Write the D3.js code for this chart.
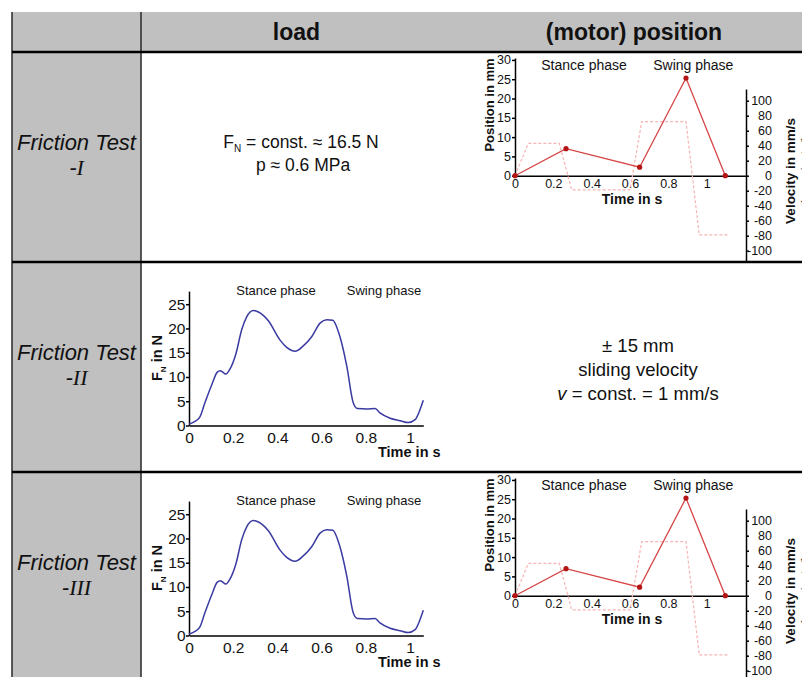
<!DOCTYPE html>
<html>
<head>
<meta charset="utf-8">
<script src="https://cdn.jsdelivr.net/npm/d3@7"></script>
<style>
body { margin: 0; background: #fff; }
text { font-family: "Liberation Sans", Arial, sans-serif; fill: #111; }
</style>
</head>
<body>
<div id="container"></div>
<script>
// values
let headers = ["load", "(motor) position"];
let rowNumerals = ["I", "II", "III"];

let loadTime  = [0, 0.047, 0.072, 0.103, 0.128, 0.142, 0.167, 0.185, 0.213, 0.238, 0.261, 0.291, 0.314, 0.359, 0.412, 0.442, 0.48, 0.517, 0.555, 0.593, 0.623, 0.65, 0.683, 0.714, 0.743, 0.762, 0.804, 0.842, 0.864, 0.91, 0.955, 0.992, 1.023, 1.042, 1.06];
let loadForce = [0.3, 1.6, 4.7, 8.4, 11.0, 11.3, 10.6, 11.6, 14.9, 19.7, 22.4, 23.7, 23.4, 21.6, 17.6, 16.1, 15.3, 16.4, 18.3, 21.1, 21.8, 21.7, 18.3, 12.2, 4.7, 3.5, 3.4, 3.5, 2.6, 1.5, 1.0, 0.6, 1.2, 2.9, 5.2];

let posTime  = [0, 0.266, 0.65, 0.892, 1.097];
let posValue = [0, 7, 2.2, 25.3, 0];

let velTime  = [0, 0.069, 0.231, 0.296, 0.6, 0.661, 0.892, 0.961, 1.113];
let velValue = [0, 43, 43, -19, -19, 72, 72, -79, -79];

let timeTicks  = [0, 0.2, 0.4, 0.6, 0.8, 1];
let forceTicks = [0, 5, 10, 15, 20, 25];
let posTicks   = [0, 5, 10, 15, 20, 25, 30];
let velTicks   = [100, 80, 60, 40, 20, 0, -20, -40, -60, -80, -100];

let svgWidth = 802;
let svgHeight = 677;
let rowTops = [52, 262, 472];

let viz = d3.select("#container")
  .append("svg")
    .attr("width", svgWidth)
    .attr("height", svgHeight);

// ---- table ----
viz.append("rect").attr("x", 12).attr("y", 12).attr("width", svgWidth - 12).attr("height", 40).attr("fill", "#c0c0c0");
viz.append("rect").attr("x", 12).attr("y", 52).attr("width", 129).attr("height", svgHeight - 52).attr("fill", "#c0c0c0");

viz.selectAll(".vline").data([12, 141]).enter().append("line")
  .attr("x1", d => d).attr("x2", d => d)
  .attr("y1", 12).attr("y2", svgHeight)
  .attr("stroke", "#333").attr("stroke-width", 1.6);

viz.selectAll(".hline").data(rowTops).enter().append("line")
  .attr("x1", 12).attr("x2", svgWidth)
  .attr("y1", d => d).attr("y2", d => d)
  .attr("stroke", "#000").attr("stroke-width", 2.6);

viz.selectAll(".head").data(headers).enter().append("text")
  .attr("x", (d, i) => i == 0 ? 296.5 : 634)
  .attr("y", 40)
  .attr("text-anchor", "middle")
  .style("font-size", "23px").style("font-weight", "bold")
  .text(d => d);

rowNumerals.forEach(function(n, i) {
  viz.append("text").attr("x", 76.5).attr("y", rowTops[i] + 97.5)
    .attr("text-anchor", "middle").style("font-size", "22px").style("font-style", "italic")
    .text("Friction Test");
  let t2 = viz.append("text").attr("x", 76.5).attr("y", rowTops[i] + 123)
    .attr("text-anchor", "middle").style("font-size", "22px").style("font-style", "italic");
  t2.append("tspan").text("-");
  t2.append("tspan").style("font-family", "'Liberation Serif', serif").text(n);
});

// row 1, load cell
let r1 = viz.append("text").attr("x", 301).attr("y", 147.5).attr("text-anchor", "middle").style("font-size", "17.5px");
r1.append("tspan").text("F");
r1.append("tspan").attr("dy", 4).style("font-size", "10px").text("N");
r1.append("tspan").attr("dy", -4).text(" = const. \u2248 16.5 N");
viz.append("text").attr("x", 303).attr("y", 171).attr("text-anchor", "middle").style("font-size", "17.5px")
  .text("p \u2248 0.6 MPa");

// row 2, position cell
viz.append("text").attr("x", 638).attr("y", 351.5).attr("text-anchor", "middle").style("font-size", "18.5px").text("\u00b1 15 mm");
viz.append("text").attr("x", 638).attr("y", 375.5).attr("text-anchor", "middle").style("font-size", "18.5px").text("sliding velocity");
let r2 = viz.append("text").attr("x", 638).attr("y", 400).attr("text-anchor", "middle").style("font-size", "18.5px");
r2.append("tspan").style("font-style", "italic").text("v");
r2.append("tspan").text(" = const. = 1 mm/s");

// ---- load chart (rows 2 and 3) ----
let loadData = loadTime.map((t, i) => ({t: t, f: loadForce[i]}));

function drawLoad(offsetY) {
  let g = viz.append("g").attr("transform", "translate(0," + offsetY + ")");
  let x = d3.scaleLinear().domain([0, 1.06]).range([189, 423.3]);
  let y = d3.scaleLinear().domain([0, 27.7]).range([425.5, 291.1]);

  let ya = g.append("g").attr("transform", "translate(189,0)")
    .call(d3.axisLeft(y).tickValues(forceTicks).tickSize(3).tickPadding(0.5).tickSizeOuter(0));
  let xa = g.append("g").attr("transform", "translate(0,425.5)")
    .call(d3.axisBottom(x).tickValues(timeTicks).tickSize(0).tickPadding(6.5).tickSizeOuter(0).tickFormat(d => String(d)));
  [ya, xa].forEach(a => {
    a.selectAll("path, line").attr("stroke", "#000").attr("stroke-width", 1.5);
    a.selectAll("text").style("font-size", "15.5px").attr("fill", "#111");
  });

  let line = d3.line().x(d => x(d.t)).y(d => y(d.f)).curve(d3.curveMonotoneX);
  g.append("path").datum(loadData)
    .attr("d", line)
    .attr("fill", "none")
    .attr("stroke", "#3a3aa2")
    .attr("stroke-width", 1.5);

  g.append("text").attr("x", 276).attr("y", 295).attr("text-anchor", "middle").style("font-size", "13px").text("Stance phase");
  g.append("text").attr("x", 384).attr("y", 295).attr("text-anchor", "middle").style("font-size", "13px").text("Swing phase");
  g.append("text").attr("x", 378).attr("y", 456.5).style("font-size", "14.5px").style("font-weight", "bold").text("Time in s");

  let yt = g.append("text").attr("transform", "translate(162,358) rotate(-90)")
    .attr("text-anchor", "middle").style("font-size", "14.5px").style("font-weight", "bold");
  yt.append("tspan").text("F");
  yt.append("tspan").attr("dy", 4).style("font-size", "8px").text("N");
  yt.append("tspan").attr("dy", -4).text(" in N");
}

// ---- position chart (rows 1 and 3) ----
let posData = posTime.map((t, i) => ({t: t, p: posValue[i]}));
let velData = velTime.map((t, i) => ({t: t, v: velValue[i]}));

function drawPos(offsetY) {
  let g = viz.append("g").attr("transform", "translate(0," + offsetY + ")");
  let x = d3.scaleLinear().domain([0, 1.205]).range([515, 746]);
  let y = d3.scaleLinear().domain([0, 30.5]).range([175.7, 58]);
  let yv = d3.scaleLinear().domain([-115, 115.6]).range([261.95, 89]);

  let ya = g.append("g").attr("transform", "translate(515,0)")
    .call(d3.axisLeft(y).tickValues(posTicks).tickSize(3).tickPadding(1).tickSizeOuter(0));
  let xa = g.append("g").attr("transform", "translate(0,175.7)")
    .call(d3.axisBottom(x).tickValues(timeTicks).tickSize(0).tickPadding(3.5).tickSizeOuter(0).tickFormat(d => String(d)));
  let va = g.append("g").attr("transform", "translate(746,0)")
    .call(d3.axisRight(yv).tickValues(velTicks).tickSize(3).tickSizeOuter(0).tickFormat(d => String(d)));
  va.selectAll("text").attr("x", 26).attr("text-anchor", "end");
  [ya, xa, va].forEach(a => {
    a.selectAll("path, line").attr("stroke", "#000").attr("stroke-width", 1.5);
    a.selectAll("text").style("font-size", "12.5px").attr("fill", "#111");
  });

  let vline = d3.line().x(d => x(d.t)).y(d => yv(d.v));
  g.append("path").datum(velData)
    .attr("d", vline)
    .attr("fill", "none")
    .attr("stroke", "#f6b4b4")
    .attr("stroke-width", 1.2)
    .attr("stroke-dasharray", "3,2");

  let pline = d3.line().x(d => x(d.t)).y(d => y(d.p));
  g.append("path").datum(posData)
    .attr("d", pline)
    .attr("fill", "none")
    .attr("stroke", "#d64545")
    .attr("stroke-width", 1.3);

  g.selectAll(".pt").data(posData).enter().append("circle")
    .attr("cx", d => x(d.t)).attr("cy", d => y(d.p))
    .attr("r", 2.6)
    .attr("fill", "#b51414");

  g.append("text").attr("x", 584).attr("y", 70).attr("text-anchor", "middle").style("font-size", "14px").text("Stance phase");
  g.append("text").attr("x", 693.3).attr("y", 70).attr("text-anchor", "middle").style("font-size", "14px").text("Swing phase");
  g.append("text").attr("x", 632).attr("y", 204).attr("text-anchor", "middle").style("font-size", "14px").style("font-weight", "bold").text("Time in s");

  g.append("text").attr("transform", "translate(494,105) rotate(-90)")
    .attr("text-anchor", "middle").style("font-size", "13px").style("font-weight", "bold").text("Position in mm");
  g.append("text").attr("transform", "translate(795,171) rotate(-90)")
    .attr("text-anchor", "middle").style("font-size", "13.5px").style("font-weight", "bold").text("Velocity in mm/s");
  g.append("text").attr("transform", "translate(809,171) rotate(-90)")
    .attr("text-anchor", "middle").style("font-size", "10px").style("font-style", "italic").text("(approximated)");
}

drawPos(0);
drawLoad(0);
drawLoad(210);
drawPos(420);
</script>
</body>
</html>
